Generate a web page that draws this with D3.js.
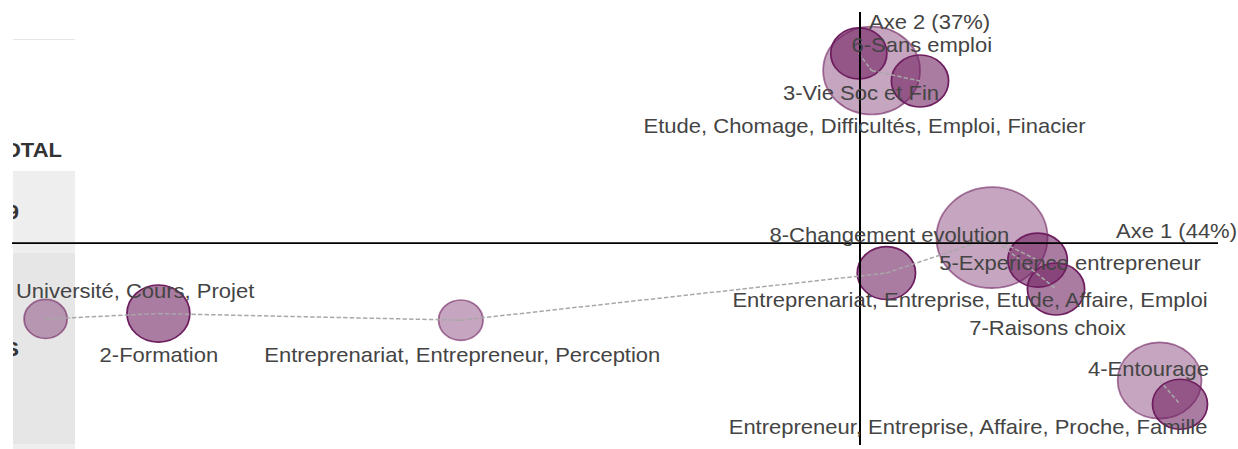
<!DOCTYPE html>
<html lang="fr">
<head>
<meta charset="UTF-8">
<title>AFC - themes et mots</title>
<style>
body { margin: 0; background: #fff; }
svg { display: block; font-family: "Liberation Sans", Arial, sans-serif; }
.lbl { font-size: 20px; fill: #444; }
.tbl { font-size: 20px; font-weight: bold; fill: #333; }
</style>
</head>
<body>
<div class="g-chart-container"></div>
<script src="https://d3js.org/d3.v7.min.js"></script>
<script>
// themes (dark bubbles)
var themes = ["2-Formation", "3-Vie Soc et Fin", "4-Entourage", "5-Experience entrepreneur",
              "6-Sans emploi", "7-Raisons choix", "8-Changement evolution"];
var themeX = [-1.754, 0.150, 0.800, 0.444, -0.003, 0.490, 0.066];
var themeY = [-0.235, 0.540, -0.537, -0.057, 0.632, -0.153, -0.100];
var themeMass = [32, 26.5, 24.5, 28.6, 25.5, 26.5, 27.5];

// word groups (light bubbles)
var words = ["Université, Cours, Projet", "Entreprenariat, Entrepreneur, Perception",
             "Entreprenariat, Entreprise, Etude, Affaire, Emploi",
             "Etude, Chomage, Difficultés, Emploi, Finacier",
             "Entrepreneur, Entreprise, Affaire, Proche, Famille"];
var wordX = [-2.036, -0.998, 0.330, 0.029, 0.749];
var wordY = [-0.253, -0.257, 0.018, 0.575, -0.458];
var wordMass = [15, 16, 100, 76, 57];

var links = [
    ["Université, Cours, Projet", "2-Formation"],
    ["2-Formation", "Entreprenariat, Entrepreneur, Perception"],
    ["Entreprenariat, Entrepreneur, Perception", "8-Changement evolution"],
    ["8-Changement evolution", "Entreprenariat, Entreprise, Etude, Affaire, Emploi"],
    ["Entreprenariat, Entreprise, Etude, Affaire, Emploi", "5-Experience entrepreneur"],
    ["Entreprenariat, Entreprise, Etude, Affaire, Emploi", "7-Raisons choix"],
    ["6-Sans emploi", "Etude, Chomage, Difficultés, Emploi, Finacier"],
    ["Etude, Chomage, Difficultés, Emploi, Finacier", "3-Vie Soc et Fin"],
    ["Entrepreneur, Entreprise, Affaire, Proche, Famille", "4-Entourage"]
];

var axisLabels = ["Axe 1 (44%)", "Axe 2 (37%)"];

// label placement (px, relative to bubble centre)
var labelShift = {
    "2-Formation": [0.5, 48.5],
    "3-Vie Soc et Fin": [-59, 19],
    "4-Entourage": [-31.5, -28],
    "5-Experience entrepreneur": [32.5, 9.5],
    "6-Sans emploi": [63, -1.5],
    "7-Raisons choix": [-8.5, 46.5],
    "8-Changement evolution": [3, -31],
    "Université, Cours, Projet": [89.5, -21],
    "Entreprenariat, Entrepreneur, Perception": [1.5, 42],
    "Entreprenariat, Entreprise, Etude, Affaire, Emploi": [-22, 69.5],
    "Etude, Chomage, Difficultés, Emploi, Finacier": [-7, 62.5],
    "Entrepreneur, Entreprise, Affaire, Proche, Famille": [-191.5, 53.5]
};

var W = 1238, H = 449, SX = 1.1;   // the map is drawn stretched horizontally
var purple = "#6e1e5f";

var svg = d3.select(".g-chart-container").append("svg")
    .attr("width", W)
    .attr("height", H);

var g = svg.append("g").attr("transform", "scale(" + SX + ",1)");

// bit of the table sitting behind the map
svg.append("defs").append("clipPath").attr("id", "tblclip")
    .append("rect").attr("x", 13 / SX).attr("y", 0).attr("width", 62 / SX).attr("height", H);
var tbl = g.append("g").attr("clip-path", "url(#tblclip)");
tbl.append("line").attr("x1", 13 / SX).attr("x2", 75 / SX).attr("y1", 39.5).attr("y2", 39.5)
    .attr("stroke", "#e6e6e6");
tbl.append("rect").attr("x", 13 / SX).attr("y", 171).attr("width", 62 / SX).attr("height", 82).attr("fill", "#eeeeee");
tbl.append("rect").attr("x", 13 / SX).attr("y", 253).attr("width", 62 / SX).attr("height", 191).attr("fill", "#e6e6e6");
tbl.append("rect").attr("x", 13 / SX).attr("y", 444).attr("width", 62 / SX).attr("height", 5).attr("fill", "#eeeeee");
tbl.append("text").attr("class", "tbl").attr("text-anchor", "end").attr("x", 62 / SX).attr("y", 157).text("TOTAL");
tbl.append("text").attr("class", "tbl").attr("text-anchor", "end").attr("x", 19 / SX).attr("y", 219).text("2019");
tbl.append("text").attr("class", "tbl").attr("text-anchor", "end").attr("x", 19 / SX).attr("y", 356).text("CAS");

var x = d3.scaleLinear().domain([-2.12, 0.895]).range([12 / SX, 1218 / SX]);
var y = d3.scaleLinear().domain([0.77, -0.673]).range([12, 445]);
var r = d3.scaleSqrt().domain([0, 100]).range([0, 50.5]);

var nodes = words.map(function(w, i) {
    return {name: w, x: wordX[i], y: wordY[i], m: wordMass[i], kind: "word"};
}).concat(themes.map(function(t, i) {
    return {name: t, x: themeX[i], y: themeY[i], m: themeMass[i], kind: "theme"};
}));
var byName = {};
nodes.forEach(function(d) { byName[d.name] = d; });

g.selectAll(".bubble")
    .data(nodes)
    .enter()
    .append("circle")
        .attr("class", "bubble")
        .attr("cx", function(d) { return x(d.x); })
        .attr("cy", function(d) { return y(d.y); })
        .attr("r", function(d) { return r(d.m); })
        .attr("fill", purple)
        .attr("fill-opacity", function(d) { return d.kind == "word" ? 0.4 : 0.58; })
        .attr("stroke", purple)
        .attr("stroke-opacity", function(d) { return d.kind == "word" ? 0.6 : 1; })
        .attr("stroke-width", 1.6);

g.selectAll(".link")
    .data(links)
    .enter()
    .append("line")
        .attr("class", "link")
        .attr("x1", function(d) { return x(byName[d[0]].x); })
        .attr("y1", function(d) { return y(byName[d[0]].y); })
        .attr("x2", function(d) { return x(byName[d[1]].x); })
        .attr("y2", function(d) { return y(byName[d[1]].y); })
        .attr("stroke", "#a8a8a8")
        .attr("stroke-width", 1.5)
        .attr("stroke-dasharray", "4,2");

// axes through the origin
g.append("line")
    .attr("x1", x.range()[0]).attr("x2", x.range()[1])
    .attr("y1", y(0)).attr("y2", y(0))
    .attr("stroke", "#000").attr("stroke-width", 1.8);
g.append("line")
    .attr("x1", x(0)).attr("x2", x(0))
    .attr("y1", y.range()[0]).attr("y2", y.range()[1])
    .attr("stroke", "#000").attr("stroke-width", 1.8);

g.append("text").attr("class", "lbl")
    .attr("text-anchor", "end")
    .attr("x", x.range()[1] + 19 / SX).attr("y", y(0) - 5)
    .text(axisLabels[0]);
g.append("text").attr("class", "lbl")
    .attr("x", x(0) + 9 / SX).attr("y", y.range()[0] + 17)
    .text(axisLabels[1]);

g.selectAll(".node-label")
    .data(nodes)
    .enter()
    .append("text")
        .attr("class", "lbl node-label")
        .attr("text-anchor", "middle")
        .attr("x", function(d) { return x(d.x) + labelShift[d.name][0] / SX; })
        .attr("y", function(d) { return y(d.y) + labelShift[d.name][1]; })
        .text(function(d) { return d.name; });
</script>
</body>
</html>
